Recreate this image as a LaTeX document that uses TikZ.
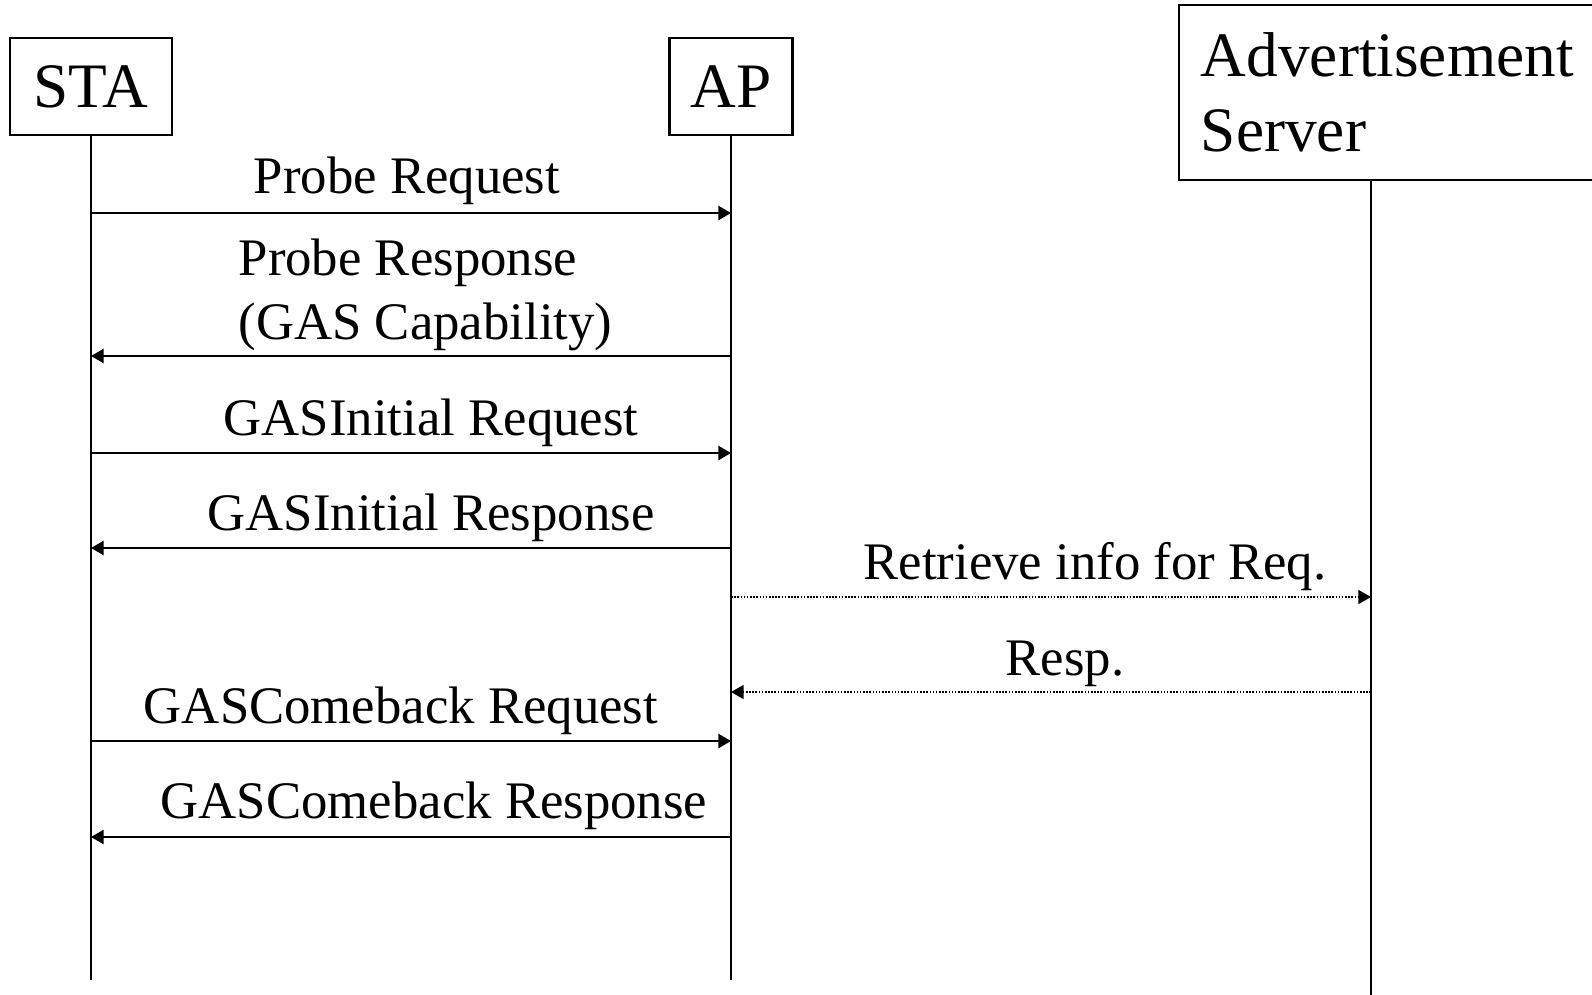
\documentclass[tikz,border=0pt]{standalone}
\usepackage{fontspec}
\setmainfont{Liberation Serif}
\usetikzlibrary{arrows.meta}

\begin{document}
\begin{tikzpicture}[x=0.01cm,y=-0.01cm,
		>={Triangle[length=3.6pt,width=4pt]},
		entity/.style={draw,line width=0.65pt,inner sep=0pt,
			font=\fontsize{18}{21.3}\selectfont},
		lifeline/.style={line width=0.65pt},
		msg/.style={->,line width=0.65pt},
		reply/.style={->,line width=0.4pt,dash pattern=on 0.45pt off 0.45pt},
		lbl/.style={inner sep=0pt,anchor=base,font=\fontsize{15}{18.2}\selectfont}]
		\useasboundingbox (0,0) rectangle (1592,994);
		% the three stations
		\node[entity,minimum width=1.62cm,minimum height=0.97cm] (sta) at (91,86.5) {STA};
		\node[entity,minimum width=1.23cm,minimum height=0.97cm] (ap) at (731,86.5) {AP};
		\node[entity,minimum width=4.21cm,minimum height=1.75cm,text width=3.77cm,
			align=left] (srv) at (1389.5,92.5) {Advertisement\\Server};
		\coordinate (srvline) at (1371,0);
		% lifelines
		\draw[lifeline] (sta.south) -- (sta |- 0,980);
		\draw[lifeline] (ap.south) -- (ap |- 0,980);
		\draw[lifeline] (srvline |- srv.south) -- (srvline |- 0,1000);
		% STA <-> AP exchange
		\draw[msg] (sta |- 0,213) -- (ap |- 0,213);
		\node[lbl] (preq) at (407,193) {Probe Request};
		\draw[msg] (ap |- 0,356) -- (sta |- 0,356);
		\node[lbl,anchor=north west,align=left] (presp) at (238,238) {Probe Response\\ (GAS Capability)};
		\draw[msg] (sta |- 0,453) -- (ap |- 0,453);
		\node[lbl] (ireq) at (431,435) {GASInitial Request};
		\draw[msg] (ap |- 0,548) -- (sta |- 0,548);
		\node[lbl] (iresp) at (431,530) {GASInitial Response};
		% AP <-> server query
		\draw[reply] (ap |- 0,597) -- (srvline |- 0,597);
		\node[lbl] (sreq) at (1095,579) {Retrieve info for Req.};
		\draw[reply] (srvline |- 0,692) -- (ap |- 0,692);
		\node[lbl] (sresp) at (1065,675) {Resp.};
		% comeback exchange
		\draw[msg] (sta |- 0,741) -- (ap |- 0,741);
		\node[lbl] (creq) at (401,723) {GASComeback Request};
		\draw[msg] (ap |- 0,837) -- (sta |- 0,837);
		\node[lbl] (cresp) at (434,818) {GASComeback Response};
\end{tikzpicture}
\end{document}
